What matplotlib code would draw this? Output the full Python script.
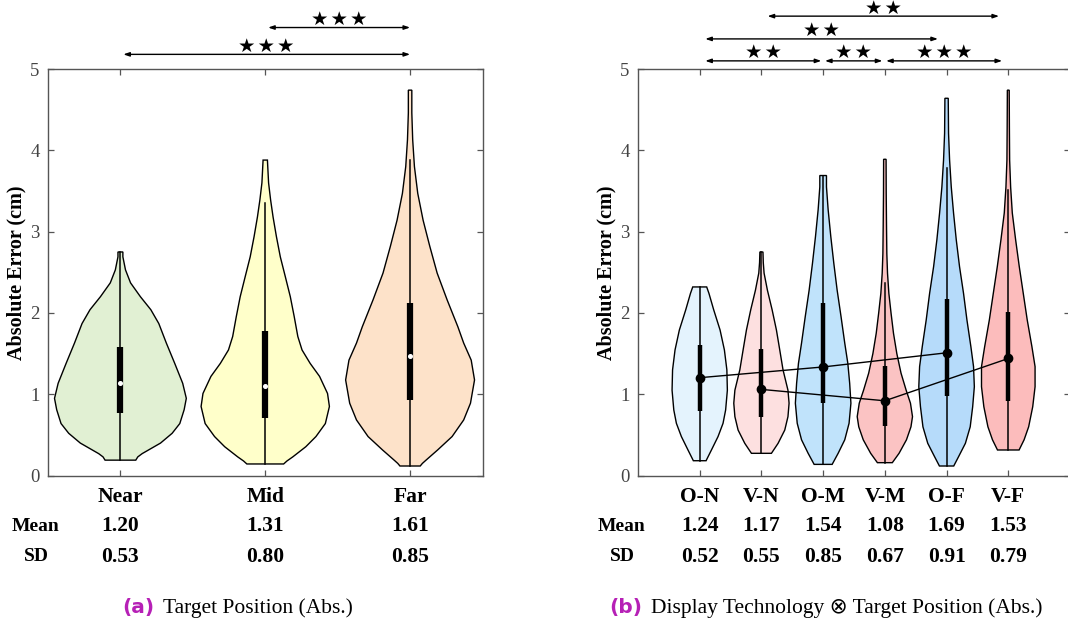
import numpy as np
import matplotlib
matplotlib.use('Agg')
import matplotlib.pyplot as plt

# ---- panel (a): target position ----
left_labels = ['Near', 'Mid', 'Far']
left_means = ['1.20', '1.31', '1.61']
left_sds = ['0.53', '0.80', '0.85']
left_fill = ['#e1f0d3', '#ffffca', '#fde2c9']

near_y = [0.19, 0.23, 0.27, 0.40, 0.52, 0.64, 0.81, 0.95, 1.135, 1.38, 1.63, 1.87, 2.04, 2.20, 2.37, 2.53, 2.69, 2.75]
near_w = [0.106, 0.12, 0.15, 0.277, 0.357, 0.41, 0.44, 0.455, 0.43, 0.375, 0.317, 0.265, 0.21, 0.138, 0.07, 0.035, 0.017, 0.017]
mid_y = [0.143, 0.18, 0.23, 0.355, 0.48, 0.64, 0.85, 1.01, 1.22, 1.38, 1.545, 1.71, 1.955, 2.2, 2.45, 2.69, 2.94, 3.18, 3.39, 3.6, 3.88]
mid_w = [0.127, 0.15, 0.19, 0.28, 0.35, 0.415, 0.443, 0.43, 0.375, 0.31, 0.254, 0.225, 0.2, 0.173, 0.138, 0.104, 0.077, 0.054, 0.037, 0.023, 0.015]
far_y = [0.118, 0.15, 0.19, 0.315, 0.48, 0.684, 0.89, 1.176, 1.42, 1.63, 1.83, 2.16, 2.49, 2.82, 3.14, 3.47, 3.8, 4.13, 4.46, 4.74]
far_w = [0.07, 0.085, 0.11, 0.19, 0.29, 0.37, 0.417, 0.445, 0.422, 0.37, 0.33, 0.256, 0.187, 0.136, 0.09, 0.053, 0.03, 0.018, 0.012, 0.012]

left_q1 = [0.766, 0.712, 0.93]
left_q3 = [1.585, 1.778, 2.127]
left_med = [1.135, 1.106, 1.47]
left_whi = [2.75, 3.35, 3.88]

# significance bars (x from, x to, level y, number of stars)
left_sig = [(1.02, 3.0, 5.18, 3), (2.02, 3.0, 5.51, 3)]

# ---- panel (b): display technology x target position ----
right_labels = ['O-N', 'V-N', 'O-M', 'V-M', 'O-F', 'V-F']
right_means = ['1.24', '1.17', '1.54', '1.08', '1.69', '1.53']
right_sds = ['0.52', '0.55', '0.85', '0.67', '0.91', '0.79']
right_fill = ['#e4f3fd', '#fde0e0', '#c0e3fb', '#fbc3c3', '#b6dbfa', '#fcbcbc']

on_y = [0.183, 0.315, 0.48, 0.643, 0.807, 1.05, 1.3, 1.545, 1.79, 2.04, 2.24, 2.32]
on_w = [0.103, 0.19, 0.297, 0.378, 0.42, 0.448, 0.44, 0.4, 0.33, 0.226, 0.15, 0.113]
vn_y = [0.274, 0.397, 0.56, 0.725, 0.89, 1.05, 1.3, 1.545, 1.79, 2.04, 2.28, 2.49, 2.62, 2.75]
vn_w = [0.162, 0.27, 0.378, 0.43, 0.448, 0.43, 0.35, 0.297, 0.243, 0.173, 0.097, 0.043, 0.03, 0.025]
om_y = [0.138, 0.274, 0.44, 0.643, 0.89, 1.135, 1.38, 1.63, 1.955, 2.28, 2.61, 2.94, 3.27, 3.55, 3.69]
om_w = [0.146, 0.243, 0.35, 0.42, 0.45, 0.43, 0.4, 0.35, 0.29, 0.227, 0.173, 0.124, 0.081, 0.054, 0.054]
vm_y = [0.159, 0.274, 0.44, 0.6, 0.725, 0.89, 1.05, 1.26, 1.5, 1.75, 2.0, 2.24, 2.49, 2.73, 3.06, 3.47, 3.89]
vm_w = [0.121, 0.23, 0.35, 0.423, 0.448, 0.415, 0.345, 0.262, 0.194, 0.14, 0.1, 0.065, 0.043, 0.032, 0.027, 0.022, 0.02]
of_y = [0.118, 0.232, 0.397, 0.6, 0.847, 1.093, 1.34, 1.585, 1.914, 2.24, 2.57, 2.9, 3.23, 3.55, 3.88, 4.21, 4.64]
of_w = [0.116, 0.194, 0.305, 0.383, 0.423, 0.45, 0.437, 0.394, 0.33, 0.275, 0.21, 0.157, 0.113, 0.076, 0.049, 0.032, 0.027]
vf_y = [0.315, 0.44, 0.6, 0.847, 1.093, 1.34, 1.585, 1.914, 2.24, 2.57, 2.9, 3.23, 3.55, 3.88, 4.29, 4.74]
vf_w = [0.175, 0.256, 0.33, 0.396, 0.434, 0.434, 0.383, 0.307, 0.243, 0.178, 0.119, 0.065, 0.038, 0.022, 0.018, 0.015]

right_q1 = [0.795, 0.725, 0.89, 0.61, 0.98, 0.92]
right_q3 = [1.606, 1.553, 2.12, 1.348, 2.17, 2.01]
right_dot = [1.204, 1.06, 1.336, 0.92, 1.51, 1.44]
right_whi = [2.32, 2.75, 3.69, 2.37, 3.78, 3.51]

right_sig = [(1.09, 2.97, 5.10, 2), (3.03, 3.96, 5.10, 2), (4.02, 5.90, 5.10, 3),
             (1.09, 4.86, 5.37, 2), (2.10, 5.85, 5.65, 2)]

serif = 'Liberation Serif'
grey = '#444444'


def draw_violin(ax, x, ys, ws, fc):
    ys = np.array(ys)
    ws = np.array(ws)
    px = np.concatenate([x - ws, (x + ws)[::-1]])
    py = np.concatenate([ys, ys[::-1]])
    ax.fill(px, py, facecolor=fc, edgecolor='black', lw=1.0, zorder=2)


def style_axes(ax, xs, xlim):
    ax.set_xlim(*xlim)
    ax.set_ylim(0, 5)
    ax.set_xticks(xs)
    ax.set_xticklabels([])
    ax.set_yticks(range(6))
    ax.tick_params(direction='in', top=True, right=True, length=4, width=0.9,
                   color='#555555', labelcolor=grey, labelsize=13.5, pad=6)
    for lab in ax.get_yticklabels():
        lab.set_family(serif)
    for s in ax.spines.values():
        s.set_color('#555555')
        s.set_linewidth(1.0)
    ax.set_ylabel('Absolute Error (cm)', family=serif, fontweight='bold', fontsize=14.5, labelpad=3)


def sig_bars(ax, sig):
    for x1, x2, yl, n in sig:
        ax.annotate('', xy=(x2, yl), xytext=(x1, yl), annotation_clip=False,
                    arrowprops=dict(arrowstyle='<|-|>,head_length=0.35,head_width=0.12',
                                    lw=1.0, color='black', shrinkA=0, shrinkB=0))
        ax.text((x1 + x2) / 2, yl + 0.10, '\u200a'.join(['\u2605'] * n), ha='center',
                va='center', fontsize=14, family='DejaVu Sans', clip_on=False)


def table_rows(ax, xs, labels, means, sds, lab_x):
    tr = ax.get_xaxis_transform()
    for x, l, m, s in zip(xs, labels, means, sds):
        ax.text(x, -0.053, l, transform=tr, ha='center', va='center', fontsize=15.5,
                fontweight='bold', family=serif)
        ax.text(x, -0.124, m, transform=tr, ha='center', va='center', fontsize=15.5,
                fontweight='bold', family=serif)
        ax.text(x, -0.200, s, transform=tr, ha='center', va='center', fontsize=15.5,
                fontweight='bold', family=serif)
    ax.text(lab_x, -0.124, 'Mean', transform=tr, ha='center', va='center', fontsize=14,
            fontweight='bold', family=serif)
    ax.text(lab_x, -0.200, 'SD', transform=tr, ha='center', va='center', fontsize=14,
            fontweight='bold', family=serif)


fig = plt.figure(figsize=(10.68, 6.24), dpi=100)
ax1 = fig.add_axes([48 / 1068, 1 - 475.6 / 624, 434.5 / 1068, 406.6 / 624])
ax2 = fig.add_axes([638 / 1068, 1 - 475.6 / 624, 432 / 1068, 406.6 / 624])

# panel a
lx = np.arange(1, 4)
for x, ys, ws, fc in zip(lx, [near_y, mid_y, far_y], [near_w, mid_w, far_w], left_fill):
    draw_violin(ax1, x, ys, ws, fc)
for i, x in enumerate(lx):
    bottom = [near_y, mid_y, far_y][i][0]
    ax1.plot([x, x], [bottom, left_whi[i]], color='black', lw=1.1, zorder=3)
    ax1.plot([x, x], [left_q1[i], left_q3[i]], color='black', lw=4.5, zorder=4, solid_capstyle='butt')
    ax1.plot(x, left_med[i], 'o', ms=2.6, color='white', mec='white', zorder=5)
style_axes(ax1, lx, (0.5, 3.5))
sig_bars(ax1, left_sig)
table_rows(ax1, lx, left_labels, left_means, left_sds, 0.417)

# panel b
rx = np.arange(1, 7)
rys = [on_y, vn_y, om_y, vm_y, of_y, vf_y]
rws = [on_w, vn_w, om_w, vm_w, of_w, vf_w]
for x, ys, ws, fc in zip(rx, rys, rws, right_fill):
    draw_violin(ax2, x, ys, ws, fc)
for i, x in enumerate(rx):
    ax2.plot([x, x], [rys[i][0], right_whi[i]], color='black', lw=1.1, zorder=3)
    ax2.plot([x, x], [right_q1[i], right_q3[i]], color='black', lw=3.2, zorder=4, solid_capstyle='butt')
# connecting lines: O-* series and V-* series
ax2.plot(rx[0::2], right_dot[0::2], '-o', color='black', lw=1.0, ms=6, zorder=6)
ax2.plot(rx[1::2], right_dot[1::2], '-o', color='black', lw=1.0, ms=6, zorder=6)
style_axes(ax2, rx, (0, 7))
sig_bars(ax2, right_sig)
table_rows(ax2, rx, right_labels, right_means, right_sds, -0.26)

# captions
cap_y = 1 - 608 / 624
fig.text(122 / 1068, cap_y, '(a)', color='#b620b6', fontweight='bold', fontsize=14.5,
         family='DejaVu Sans', va='center')
fig.text(163 / 1068, cap_y, 'Target Position (Abs.)', fontsize=15.5, family=serif, va='center')
fig.text(609 / 1068, cap_y, '(b)', color='#b620b6', fontweight='bold', fontsize=14.5,
         family='DejaVu Sans', va='center')
fig.text(651 / 1068, cap_y, 'Display Technology \u2297 Target Position (Abs.)', fontsize=15.5,
         family=[serif, 'DejaVu Sans'], va='center')

fig.savefig('out.png', dpi=100)
